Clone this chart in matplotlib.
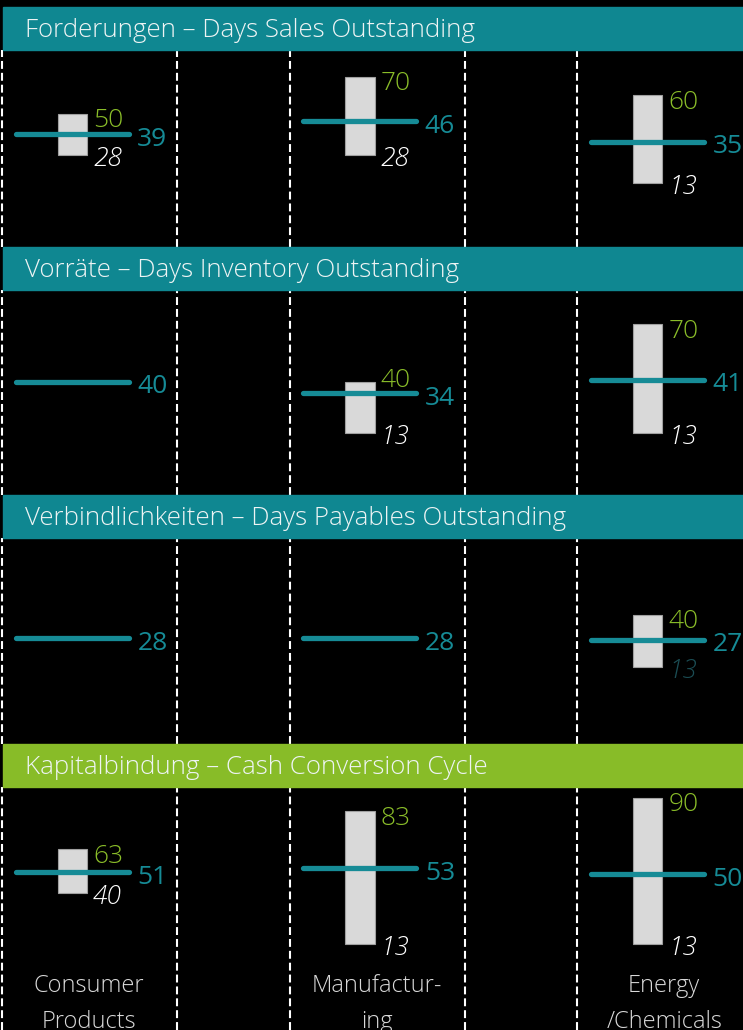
import matplotlib.pyplot as plt
from matplotlib.patches import Rectangle
from matplotlib.transforms import blended_transform_factory

plt.rcParams['font.family'] = ['Open Sans', 'DejaVu Sans']

# data
categories = ["Consumer\nProducts", "Manufactur-\ning", "Energy\n/Chemicals"]
titles = ["Forderungen – Days Sales Outstanding",
          "Vorräte – Days Inventory Outstanding",
          "Verbindlichkeiten – Days Payables Outstanding",
          "Kapitalbindung – Cash Conversion Cycle"]
dso_low = [28, 28, 13]
dso_high = [50, 70, 60]
dso_median = [39, 46, 35]
dio_low = [None, 13, 13]
dio_high = [None, 40, 70]
dio_median = [40, 34, 41]
dpo_low = [None, None, 13]
dpo_high = [None, None, 40]
dpo_median = [28, 28, 27]
ccc_low = [40, 13, 13]
ccc_high = [63, 83, 90]
ccc_median = [51, 53, 50]

lows = [dso_low, dio_low, dpo_low, ccc_low]
highs = [dso_high, dio_high, dpo_high, ccc_high]
medians = [dso_median, dio_median, dpo_median, ccc_median]

# layout (pixels)
W, H = 743, 1030
header_px = [(7, 50), (247, 290), (495, 538), (744, 787)]
panel_px = [(50, 247), (290, 495), (538, 744), (787, 1030)]
ylims = [(-21.5, 84.4), (-19.4, 88.0), (-26.9, 79.8), (-32.1, 95.8)]
xlim = (-0.252, 2.332)

teal = '#0f8791'
line_teal = '#168b96'
green = '#8abd29'
header_colors = [teal, teal, teal, '#88bc28']
low_colors = ['white', 'white', '#1b4d54', 'white']
fs = 19

fig = plt.figure(figsize=(W / 100, H / 100), dpi=100, facecolor='black')

for i in range(4):
    top, bot = panel_px[i]
    ax = fig.add_axes([0, 1 - bot / H, 1, (bot - top) / H])
    ax.set_xlim(xlim)
    ax.set_ylim(ylims[i])
    ax.axis('off')

    for j in range(3):
        for dx in (-0.245, 0.364):
            ax.axvline(j + dx, color='white', lw=1.5, ls=(0, (3.8, 1.9)))

        lo, hi, med = lows[i][j], highs[i][j], medians[i][j]
        if lo is not None:
            ax.bar(j, hi - lo, bottom=lo, width=0.101, color='#d9d9d9',
                   edgecolor='#a0a0a0', linewidth=0.8, zorder=2)
            # lift the top label when it would sit on the median line
            dy = -9.5 if hi - med > 8 else -4.0
            ax.annotate(str(hi), (j + 0.05, hi), xytext=(4.5, dy),
                        textcoords='offset points', ha='left', va='baseline',
                        color=green, fontsize=fs, fontweight='light')
            ax.annotate(str(lo), (j + 0.05, lo), xytext=(4.5, -7.8),
                        textcoords='offset points', ha='left', va='baseline',
                        color=low_colors[i], fontsize=fs, fontweight='light',
                        style='italic')
        ax.plot([j - 0.1965, j + 0.1965], [med, med], color=line_teal, lw=3.8,
                solid_capstyle='round', zorder=3)
        ax.annotate(str(med), (j + 0.1965, med), xytext=(6, -8.3),
                    textcoords='offset points', ha='left', va='baseline',
                    color=line_teal, fontsize=fs)

    if i == 3:
        trans = blended_transform_factory(ax.transData, fig.transFigure)
        for j, cat in enumerate(categories):
            ax.text(j + 0.058, 1 - 1004 / H, cat, transform=trans,
                    ha='center', va='center', color='#d9d9d9', fontsize=17,
                    fontweight='light', linespacing=1.62)

for i in range(4):
    top, bot = header_px[i]
    fig.add_artist(Rectangle((3 / W, 1 - bot / H), 1, (bot - top) / H,
                             transform=fig.transFigure,
                             color=header_colors[i], zorder=5))
    fig.text(25 / W, 1 - ((top + bot) / 2 + 8.5) / H, titles[i],
             color='#eef4f4', fontsize=18.6, fontweight='light', ha='left',
             va='baseline', zorder=6)

fig.savefig('out.png', dpi=100, facecolor='black')
